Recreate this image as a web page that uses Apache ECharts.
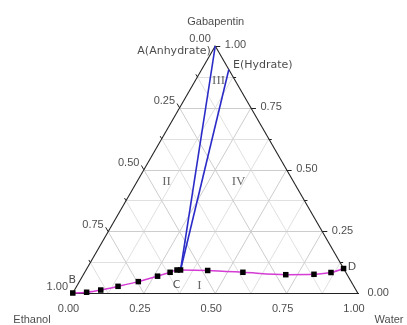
<!DOCTYPE html>
<html>
<head>
<meta charset="utf-8">
<script src="https://cdn.jsdelivr.net/npm/echarts@6/dist/echarts.min.js"></script>
<style>
  html, body { margin: 0; padding: 0; background: #fff; }
  #chart { width: 407px; height: 325px; }
</style>
</head>
<body>
<div id="chart"></div>
<script>
// Ternary phase diagram: Gabapentin / Ethanol / Water.
// Compositions are given as (water, gabapentin); ethanol = 1 - water - gabapentin.
const tickValues = [0, 0.25, 0.5, 0.75, 1];
const tickLabels = ['0.00', '0.25', '0.50', '0.75', '1.00'];
const minorTickValues = [0.125, 0.375, 0.625, 0.875];
const gridValues = [0.125, 0.25, 0.375, 0.5, 0.625, 0.75, 0.875];

// Solubility curve B -> C -> D
const curveWater = [0, 0.047, 0.092, 0.145, 0.2065, 0.263, 0.299, 0.3185, 0.331, 0.427, 0.554, 0.709, 0.807, 0.863, 0.899];
const curveGaba  = [0.002, 0.005, 0.014, 0.029, 0.048, 0.070, 0.0857, 0.095, 0.095, 0.093, 0.0857, 0.076, 0.0776, 0.0848, 0.101];

// Tie lines from the solid phases to the invariant point C
const pointA = [0, 1];          // anhydrate (pure gabapentin)
const pointE = [0.095, 0.905];  // hydrate
const pointC = [0.331, 0.095];
const pointB = [0, 0.002];
const pointD = [0.899, 0.101];

// Phase region labels and their compositions
const regionNames = ['I', 'II', 'III', 'IV'];
const regionWater = [0.431, 0.107, 0.085, 0.359];
const regionGaba  = [0.030, 0.4485, 0.8566, 0.4485];

const SQ = Math.sqrt(3) / 2;
const toXY = (w, g) => [w + g / 2, g * SQ];
const PX = 1 / 285.5; // one pixel in data units

// Grid lines: constant gabapentin, constant water, constant ethanol
const gridMajor = [], gridMinor = [];
gridValues.forEach(v => {
  const target = (v * 4) % 1 === 0 ? gridMajor : gridMinor;
  target.push({ coords: [toXY(0, v), toXY(1 - v, v)] });
  target.push({ coords: [toXY(v, 0), toXY(v, 1 - v)] });
  target.push({ coords: [toXY(1 - v, 0), toXY(0, 1 - v)] });
});

// Triangle outline
const frame = [
  { coords: [toXY(0, 0), toXY(1, 0)] },
  { coords: [toXY(1, 0), toXY(0, 1)] },
  { coords: [toXY(0, 1), toXY(0, 0)] }
];

// Ticks: left (ethanol) up-left, right (gabapentin) to the right, bottom (water) down-left
function tickSegs(values, len) {
  const segs = [];
  values.forEach(v => {
    let p = toXY(0, 1 - v);
    segs.push({ coords: [p, [p[0] - 0.5 * len, p[1] + SQ * len]] });
    p = toXY(1 - v, v);
    segs.push({ coords: [p, [p[0] + len, p[1]]] });
    p = toXY(v, 0);
    segs.push({ coords: [p, [p[0] - 0.5 * len, p[1] - SQ * len]] });
  });
  return segs;
}
const ticks = tickSegs(tickValues, 5 * PX).concat(tickSegs(minorTickValues, 3 * PX));

const FONT = "'Liberation Sans', Arial, sans-serif";
function textItem(pt, text, dx, dy, align, extra) {
  return {
    value: pt,
    label: Object.assign({
      show: true, formatter: text, position: [dx, dy],
      align: align, verticalAlign: 'middle',
      fontFamily: FONT, fontSize: 11, color: '#1a1a1a'
    }, extra || {})
  };
}

const texts = [];
tickValues.forEach((v, i) => {
  texts.push(textItem(toXY(0, 1 - v), tickLabels[i], -4, -6.5, 'right'));
  texts.push(textItem(toXY(1 - v, v), tickLabels[i], 10, -0.5, 'left'));
  texts.push(textItem(toXY(v, 0), tickLabels[i], -3.5, 16, 'center'));
});
texts.push(textItem(toXY(0, 1), 'Gabapentin', 1, -23.5, 'center'));
texts.push(textItem(toXY(0, 0), 'Ethanol', -40, 27, 'center'));
texts.push(textItem(toXY(1, 0), 'Water', 31.5, 27, 'center'));

const LBL = { fontFamily: "'DejaVu Sans', sans-serif", fontSize: 11 };
texts.push(textItem(toXY(pointA[0], pointA[1]), 'A(Anhydrate)', -4, 5.5, 'right', LBL));
texts.push(textItem(toXY(pointE[0], pointE[1]), 'E(Hydrate)', 4.7, -3.5, 'left', LBL));
texts.push(textItem(toXY(pointB[0], pointB[1]), 'B', 0, -12, 'center', LBL));
texts.push(textItem(toXY(pointC[0], pointC[1]), 'C', -3.5, 16, 'center', LBL));
texts.push(textItem(toXY(pointD[0], pointD[1]), 'D', 9, -1, 'center', LBL));
regionNames.forEach((n, i) => {
  texts.push(textItem(toXY(regionWater[i], regionGaba[i]), n, 0, 0, 'center',
    { fontFamily: "'Liberation Serif', 'DejaVu Serif', serif", fontSize: 13, color: '#444' }));
});

const curve = curveWater.map((w, i) => toXY(w, curveGaba[i]));
const tieLines = [
  { coords: [toXY(pointA[0], pointA[1]), toXY(pointC[0], pointC[1])] },
  { coords: [toXY(pointE[0], pointE[1]), toXY(pointC[0], pointC[1])] }
];

const chart = echarts.init(document.getElementById('chart'), null, { renderer: 'canvas' });
chart.setOption({
  animation: false,
  backgroundColor: '#fff',
  grid: { left: 72.5, right: 49, top: 46, bottom: 31.5 },
  xAxis: { type: 'value', min: 0, max: 1, show: false },
  yAxis: { type: 'value', min: 0, max: SQ, show: false },
  series: [
    { type: 'lines', coordinateSystem: 'cartesian2d', data: gridMinor, silent: true,
      lineStyle: { color: '#e0e0e0', width: 1, opacity: 1 } },
    { type: 'lines', coordinateSystem: 'cartesian2d', data: gridMajor, silent: true,
      lineStyle: { color: '#cdcdcd', width: 1, opacity: 1 } },
    { type: 'lines', coordinateSystem: 'cartesian2d', data: frame, silent: true,
      lineStyle: { color: '#222', width: 1.1, opacity: 1 } },
    { type: 'lines', coordinateSystem: 'cartesian2d', data: ticks, silent: true,
      lineStyle: { color: '#222', width: 1, opacity: 1 } },
    { type: 'lines', coordinateSystem: 'cartesian2d', data: tieLines, silent: true,
      lineStyle: { color: '#2a2ac8', width: 1.6, opacity: 1 } },
    { type: 'line', data: curve, smooth: 0.3, symbol: 'rect', symbolSize: 5.5,
      lineStyle: { color: '#d43cd4', width: 1.5 },
      itemStyle: { color: '#000' }, silent: true },
    { type: 'scatter', data: texts, symbolSize: 1, silent: true,
      itemStyle: { color: 'rgba(0,0,0,0)' } }
  ]
});
</script>
</body>
</html>
